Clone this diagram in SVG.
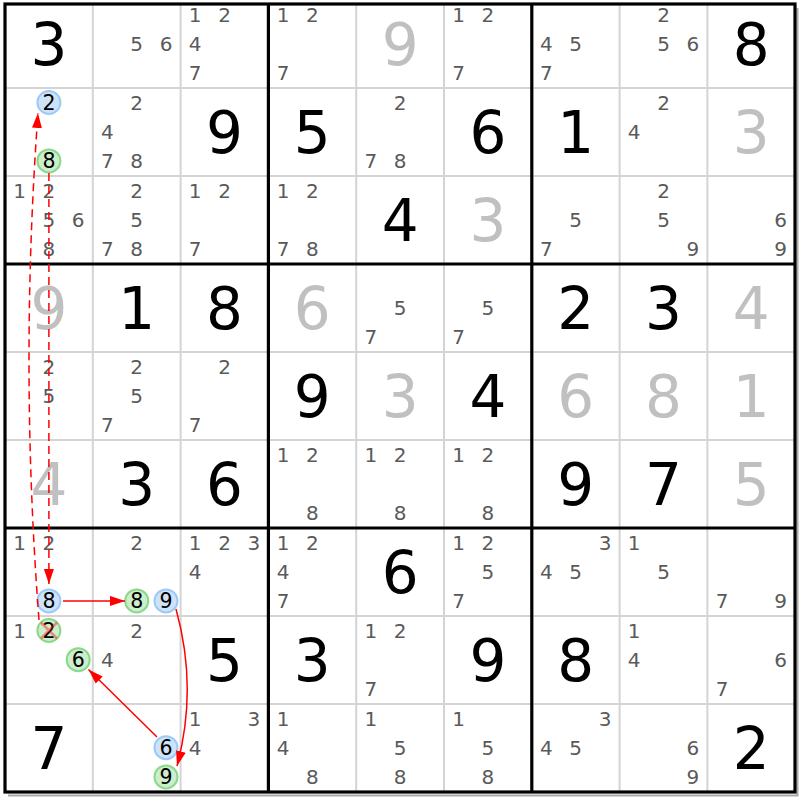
<svg xmlns="http://www.w3.org/2000/svg" width="800" height="800" viewBox="0 0 800 800">
<style>
text{font-family:"DejaVu Sans","Liberation Sans",sans-serif;text-anchor:middle}
.c{font-size:20px;fill:#5a5a5a}
.k{font-size:20.5px;fill:#000}
.g{font-size:58px;fill:#000}
.s{font-size:58px;fill:#c0c0c0}
.thin{stroke:#d4d4d4;stroke-width:2}
.thick{stroke:#000;stroke-width:3.2}
.cb{fill:#cfe3f8;stroke:#9ccaf8;stroke-width:2}
.cg{fill:#cdeecd;stroke:#8ad88a;stroke-width:2}
.arr{fill:none;stroke:#ff0000;stroke-width:1.5}
.dash{stroke-dasharray:8 5}
</style>
<defs>
<marker id="ah" viewBox="0 0 15 10" refX="15" refY="5" markerWidth="15" markerHeight="10" markerUnits="userSpaceOnUse" orient="auto"><path d="M0,0 L15,5 L0,10 z" fill="#ff0000"/></marker>
</defs>
<rect width="800" height="800" fill="#fff"/>
<g id="grid">
<path class="thin" d="M92.8,4V792M180.6,4V792M356.2,4V792M444,4V792M619.6,4V792M707.4,4V792M5,88H795M5,176H795M5,352H795M5,440H795M5,616H795M5,704H795"/>
<path d="M797.5,8V795.5H8" fill="none" stroke="#a8a8a8" stroke-width="2"/>
<path class="thick" d="M268.4,4V792M531.8,4V792M5,264H795M5,528H795"/>
<rect class="thick" x="5" y="4" width="790" height="788" fill="none"/>
</g>
<g id="r0">
<g id="r0c0"><text class="g" x="48.9" y="65">3</text></g>
<g id="r0c1"><text class="c" x="136.7" y="51">5</text><text class="c" x="166" y="51">6</text></g>
<g id="r0c2"><text class="c" x="195.2" y="21.8">1</text><text class="c" x="224.5" y="21.8">2</text><text class="c" x="195.2" y="51">4</text><text class="c" x="195.2" y="80.2">7</text></g>
<g id="r0c3"><text class="c" x="283" y="21.8">1</text><text class="c" x="312.3" y="21.8">2</text><text class="c" x="283" y="80.2">7</text></g>
<g id="r0c4"><text class="s" x="400.1" y="65">9</text></g>
<g id="r0c5"><text class="c" x="458.6" y="21.8">1</text><text class="c" x="487.9" y="21.8">2</text><text class="c" x="458.6" y="80.2">7</text></g>
<g id="r0c6"><text class="c" x="546.4" y="51">4</text><text class="c" x="575.7" y="51">5</text><text class="c" x="546.4" y="80.2">7</text></g>
<g id="r0c7"><text class="c" x="663.5" y="21.8">2</text><text class="c" x="663.5" y="51">5</text><text class="c" x="692.8" y="51">6</text></g>
<g id="r0c8"><text class="g" x="751.3" y="65">8</text></g>
</g>
<g id="r1">
<g id="r1c0"><circle class="cb" cx="48.9" cy="102.5" r="11.5"/><text class="k" x="48.9" y="110">2</text><circle class="cg" cx="48.9" cy="160.9" r="11.5"/><text class="k" x="48.9" y="168.4">8</text></g>
<g id="r1c1"><text class="c" x="136.7" y="109.8">2</text><text class="c" x="107.4" y="139">4</text><text class="c" x="107.4" y="168.2">7</text><text class="c" x="136.7" y="168.2">8</text></g>
<g id="r1c2"><text class="g" x="224.5" y="153">9</text></g>
<g id="r1c3"><text class="g" x="312.3" y="153">5</text></g>
<g id="r1c4"><text class="c" x="400.1" y="109.8">2</text><text class="c" x="370.8" y="168.2">7</text><text class="c" x="400.1" y="168.2">8</text></g>
<g id="r1c5"><text class="g" x="487.9" y="153">6</text></g>
<g id="r1c6"><text class="g" x="575.7" y="153">1</text></g>
<g id="r1c7"><text class="c" x="663.5" y="109.8">2</text><text class="c" x="634.2" y="139">4</text></g>
<g id="r1c8"><text class="s" x="751.3" y="153">3</text></g>
</g>
<g id="r2">
<g id="r2c0"><text class="c" x="19.6" y="197.8">1</text><text class="c" x="48.9" y="197.8">2</text><text class="c" x="48.9" y="227">5</text><text class="c" x="78.2" y="227">6</text><text class="c" x="48.9" y="256.2">8</text></g>
<g id="r2c1"><text class="c" x="136.7" y="197.8">2</text><text class="c" x="136.7" y="227">5</text><text class="c" x="107.4" y="256.2">7</text><text class="c" x="136.7" y="256.2">8</text></g>
<g id="r2c2"><text class="c" x="195.2" y="197.8">1</text><text class="c" x="224.5" y="197.8">2</text><text class="c" x="195.2" y="256.2">7</text></g>
<g id="r2c3"><text class="c" x="283" y="197.8">1</text><text class="c" x="312.3" y="197.8">2</text><text class="c" x="283" y="256.2">7</text><text class="c" x="312.3" y="256.2">8</text></g>
<g id="r2c4"><text class="g" x="400.1" y="241">4</text></g>
<g id="r2c5"><text class="s" x="487.9" y="241">3</text></g>
<g id="r2c6"><text class="c" x="575.7" y="227">5</text><text class="c" x="546.4" y="256.2">7</text></g>
<g id="r2c7"><text class="c" x="663.5" y="197.8">2</text><text class="c" x="663.5" y="227">5</text><text class="c" x="692.8" y="256.2">9</text></g>
<g id="r2c8"><text class="c" x="780.6" y="227">6</text><text class="c" x="780.6" y="256.2">9</text></g>
</g>
<g id="r3">
<g id="r3c0"><text class="s" x="48.9" y="329">9</text></g>
<g id="r3c1"><text class="g" x="136.7" y="329">1</text></g>
<g id="r3c2"><text class="g" x="224.5" y="329">8</text></g>
<g id="r3c3"><text class="s" x="312.3" y="329">6</text></g>
<g id="r3c4"><text class="c" x="400.1" y="315">5</text><text class="c" x="370.8" y="344.2">7</text></g>
<g id="r3c5"><text class="c" x="487.9" y="315">5</text><text class="c" x="458.6" y="344.2">7</text></g>
<g id="r3c6"><text class="g" x="575.7" y="329">2</text></g>
<g id="r3c7"><text class="g" x="663.5" y="329">3</text></g>
<g id="r3c8"><text class="s" x="751.3" y="329">4</text></g>
</g>
<g id="r4">
<g id="r4c0"><text class="c" x="48.9" y="373.8">2</text><text class="c" x="48.9" y="403">5</text></g>
<g id="r4c1"><text class="c" x="136.7" y="373.8">2</text><text class="c" x="136.7" y="403">5</text><text class="c" x="107.4" y="432.2">7</text></g>
<g id="r4c2"><text class="c" x="224.5" y="373.8">2</text><text class="c" x="195.2" y="432.2">7</text></g>
<g id="r4c3"><text class="g" x="312.3" y="417">9</text></g>
<g id="r4c4"><text class="s" x="400.1" y="417">3</text></g>
<g id="r4c5"><text class="g" x="487.9" y="417">4</text></g>
<g id="r4c6"><text class="s" x="575.7" y="417">6</text></g>
<g id="r4c7"><text class="s" x="663.5" y="417">8</text></g>
<g id="r4c8"><text class="s" x="751.3" y="417">1</text></g>
</g>
<g id="r5">
<g id="r5c0"><text class="s" x="48.9" y="505">4</text></g>
<g id="r5c1"><text class="g" x="136.7" y="505">3</text></g>
<g id="r5c2"><text class="g" x="224.5" y="505">6</text></g>
<g id="r5c3"><text class="c" x="283" y="461.8">1</text><text class="c" x="312.3" y="461.8">2</text><text class="c" x="312.3" y="520.2">8</text></g>
<g id="r5c4"><text class="c" x="370.8" y="461.8">1</text><text class="c" x="400.1" y="461.8">2</text><text class="c" x="400.1" y="520.2">8</text></g>
<g id="r5c5"><text class="c" x="458.6" y="461.8">1</text><text class="c" x="487.9" y="461.8">2</text><text class="c" x="487.9" y="520.2">8</text></g>
<g id="r5c6"><text class="g" x="575.7" y="505">9</text></g>
<g id="r5c7"><text class="g" x="663.5" y="505">7</text></g>
<g id="r5c8"><text class="s" x="751.3" y="505">5</text></g>
</g>
<g id="r6">
<g id="r6c0"><text class="c" x="19.6" y="549.8">1</text><text class="c" x="48.9" y="549.8">2</text><circle class="cb" cx="48.9" cy="600.9" r="11.5"/><text class="k" x="48.9" y="608.4">8</text></g>
<g id="r6c1"><text class="c" x="136.7" y="549.8">2</text><circle class="cg" cx="136.7" cy="600.9" r="11.5"/><text class="k" x="136.7" y="608.4">8</text><circle class="cb" cx="166" cy="600.9" r="11.5"/><text class="k" x="166" y="608.4">9</text></g>
<g id="r6c2"><text class="c" x="195.2" y="549.8">1</text><text class="c" x="224.5" y="549.8">2</text><text class="c" x="253.8" y="549.8">3</text><text class="c" x="195.2" y="579">4</text></g>
<g id="r6c3"><text class="c" x="283" y="549.8">1</text><text class="c" x="312.3" y="549.8">2</text><text class="c" x="283" y="579">4</text><text class="c" x="283" y="608.2">7</text></g>
<g id="r6c4"><text class="g" x="400.1" y="593">6</text></g>
<g id="r6c5"><text class="c" x="458.6" y="549.8">1</text><text class="c" x="487.9" y="549.8">2</text><text class="c" x="487.9" y="579">5</text><text class="c" x="458.6" y="608.2">7</text></g>
<g id="r6c6"><text class="c" x="605" y="549.8">3</text><text class="c" x="546.4" y="579">4</text><text class="c" x="575.7" y="579">5</text></g>
<g id="r6c7"><text class="c" x="634.2" y="549.8">1</text><text class="c" x="663.5" y="579">5</text></g>
<g id="r6c8"><text class="c" x="722" y="608.2">7</text><text class="c" x="780.6" y="608.2">9</text></g>
</g>
<g id="r7">
<g id="r7c0"><text class="c" x="19.6" y="637.8">1</text><circle class="cg" cx="48.9" cy="630.5" r="11.5"/><text class="k" x="48.9" y="638">2</text><path d="M41,622.5L57,638.5M57,622.5L41,638.5" stroke="#ff0000" stroke-opacity="0.4" stroke-width="2.5"/><circle class="cg" cx="78.2" cy="659.7" r="11.5"/><text class="k" x="78.2" y="667.2">6</text></g>
<g id="r7c1"><text class="c" x="136.7" y="637.8">2</text><text class="c" x="107.4" y="667">4</text></g>
<g id="r7c2"><text class="g" x="224.5" y="681">5</text></g>
<g id="r7c3"><text class="g" x="312.3" y="681">3</text></g>
<g id="r7c4"><text class="c" x="370.8" y="637.8">1</text><text class="c" x="400.1" y="637.8">2</text><text class="c" x="370.8" y="696.2">7</text></g>
<g id="r7c5"><text class="g" x="487.9" y="681">9</text></g>
<g id="r7c6"><text class="g" x="575.7" y="681">8</text></g>
<g id="r7c7"><text class="c" x="634.2" y="637.8">1</text><text class="c" x="634.2" y="667">4</text></g>
<g id="r7c8"><text class="c" x="780.6" y="667">6</text><text class="c" x="722" y="696.2">7</text></g>
</g>
<g id="r8">
<g id="r8c0"><text class="g" x="48.9" y="769">7</text></g>
<g id="r8c1"><circle class="cb" cx="166" cy="747.7" r="11.5"/><text class="k" x="166" y="755.2">6</text><circle class="cg" cx="166" cy="776.9" r="11.5"/><text class="k" x="166" y="784.4">9</text></g>
<g id="r8c2"><text class="c" x="195.2" y="725.8">1</text><text class="c" x="253.8" y="725.8">3</text><text class="c" x="195.2" y="755">4</text></g>
<g id="r8c3"><text class="c" x="283" y="725.8">1</text><text class="c" x="283" y="755">4</text><text class="c" x="312.3" y="784.2">8</text></g>
<g id="r8c4"><text class="c" x="370.8" y="725.8">1</text><text class="c" x="400.1" y="755">5</text><text class="c" x="400.1" y="784.2">8</text></g>
<g id="r8c5"><text class="c" x="458.6" y="725.8">1</text><text class="c" x="487.9" y="755">5</text><text class="c" x="487.9" y="784.2">8</text></g>
<g id="r8c6"><text class="c" x="605" y="725.8">3</text><text class="c" x="546.4" y="755">4</text><text class="c" x="575.7" y="755">5</text></g>
<g id="r8c7"><text class="c" x="692.8" y="755">6</text><text class="c" x="692.8" y="784.2">9</text></g>
<g id="r8c8"><text class="g" x="751.3" y="769">2</text></g>
</g>
<g id="connectors">
<path class="arr dash" d="M48.9,173 L48.9,584" marker-end="url(#ah)"/>
<path class="arr dash" d="M39,620 Q19.5,366 38,113" marker-end="url(#ah)"/>
<path class="arr" d="M63,600.9 L125,600.9" marker-end="url(#ah)"/>
<path class="arr" d="M176,609 Q198,688 177,766" marker-end="url(#ah)"/>
<path class="arr" d="M157,737 L88.5,669.5" marker-end="url(#ah)"/>
</g>
</svg>
